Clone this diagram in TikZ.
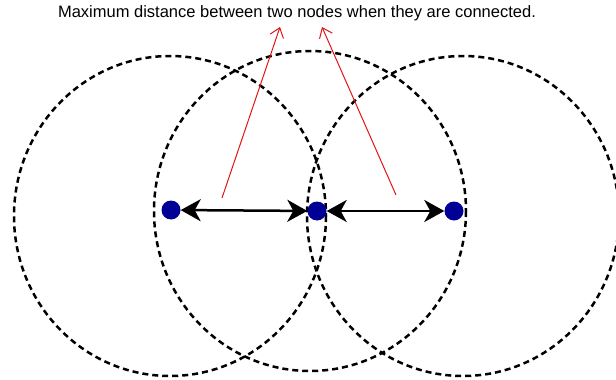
\documentclass[tikz,border=0pt]{standalone}
\usepackage{fontspec}
\setmainfont{Liberation Sans}
\usetikzlibrary{arrows.meta,positioning}
\definecolor{nodeblue}{RGB}{0,0,150}
\definecolor{linkred}{RGB}{225,20,20}

\tikzset{
  coverage/.style={line width=2.5pt, dash pattern=on 6pt off 4pt},
  sensor/.style={circle, fill=nodeblue, inner sep=0pt, minimum size=19pt},
  hop/.style={line width=2.5pt, {Stealth[length=20pt,width=22pt,inset=6pt]}-{Stealth[length=20pt,width=22pt,inset=6pt]}},
  pointer/.style={linkred, line width=1pt, -{Straight Barb[length=9pt,width=14pt]}}
}

\begin{document}
\begin{tikzpicture}[x=1pt,y=-1pt]
\useasboundingbox (0,0) rectangle (616,380);
% Radio range of each node
\foreach \cx/\cy in {170/216,310/211,463/216} {
  \draw[coverage] (\cx,\cy) ellipse [x radius=156, y radius=160];
}
% Nodes
\node[sensor] (n1) at (171,210) {};
\node[sensor] (n2) at (317,211) {};
\node[sensor] (n3) at (454,211) {};
% Links between neighbours
\draw[hop] (n1) -- (n2);
\draw[hop] (n2) -- (n3);
% Caption and pointers
\node[font=\fontsize{16.5}{19}\selectfont] (caption) at (297,13) {Maximum distance between two nodes when they are connected.};
\coordinate (from1) at (222,198);
\coordinate (to1) at (280,27);
\coordinate (from2) at (396,195);
\coordinate (to2) at (322,27);
\draw[pointer] (from1) -- (to1);
\draw[pointer] (from2) -- (to2);
\end{tikzpicture}
\end{document}
